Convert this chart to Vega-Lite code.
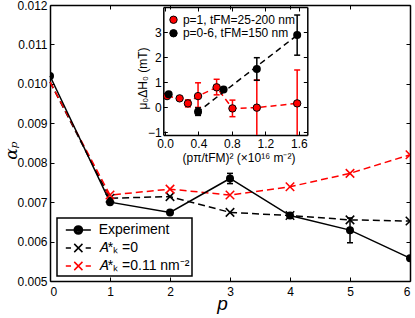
{
  "$schema": "https://vega.github.io/schema/vega-lite/v6.json",
  "width": 360,
  "height": 276,
  "autosize": {"type": "none"},
  "padding": {"left": 50, "top": 5, "right": 5, "bottom": 37},
  "background": "white",
  "config": {
    "font": "Liberation Sans",
    "view": {"stroke": null},
    "axis": {"grid": false, "domainColor": "black", "domainWidth": 1.5, "tickColor": "black", "tickWidth": 1, "tickSize": -4, "labelFont": "Liberation Sans", "labelFontSize": 12, "labelColor": "black", "titleColor": "black", "titleFontWeight": "normal", "titleFont": "Liberation Sans", "labelPadding": 7},
    "legend": {"strokeWidth": 1.5, "labelColor": "black", "labelFont": "Liberation Sans"}
  },
  "datasets": {
    "main": [
      {"s": "exp", "p": 0, "v": 0.0102},
      {"s": "exp", "p": 1, "v": 0.0070},
      {"s": "exp", "p": 2, "v": 0.00674},
      {"s": "exp", "p": 3, "v": 0.0076, "lo": 0.00747, "hi": 0.00773},
      {"s": "exp", "p": 4, "v": 0.00666},
      {"s": "exp", "p": 5, "v": 0.00629, "lo": 0.00597, "hi": 0.0066},
      {"s": "exp", "p": 6, "v": 0.00558},
      {"s": "a0", "p": 0, "v": 0.01005},
      {"s": "a0", "p": 1, "v": 0.0071},
      {"s": "a0", "p": 2, "v": 0.00714},
      {"s": "a0", "p": 3, "v": 0.00674},
      {"s": "a0", "p": 4, "v": 0.00666},
      {"s": "a0", "p": 5, "v": 0.00655},
      {"s": "a0", "p": 6, "v": 0.00652},
      {"s": "a11", "p": 0, "v": 0.01005},
      {"s": "a11", "p": 1, "v": 0.00718},
      {"s": "a11", "p": 2, "v": 0.00733},
      {"s": "a11", "p": 3, "v": 0.00718},
      {"s": "a11", "p": 4, "v": 0.00739},
      {"s": "a11", "p": 5, "v": 0.00773},
      {"s": "a11", "p": 6, "v": 0.0082}
    ],
    "inset": [
      {"g": "r", "x": 0.025, "y": 0.45},
      {"g": "r", "x": 0.175, "y": 0.36},
      {"g": "r", "x": 0.274, "y": 0.16, "lo": 0.02, "hi": 0.3},
      {"g": "r", "x": 0.395, "y": 0.45, "lo": 0.0, "hi": 0.98},
      {"g": "r", "x": 0.617, "y": 0.8, "lo": 0.5, "hi": 1.12},
      {"g": "r", "x": 0.806, "y": -0.04, "lo": -0.37, "hi": 0.29},
      {"g": "r", "x": 1.097, "y": -0.01, "lo": -1.1, "hi": 1.09},
      {"g": "r", "x": 1.579, "y": 0.16, "lo": -1.1, "hi": 1.49},
      {"g": "k", "x": 0.044, "y": 0.52},
      {"g": "k", "x": 0.395, "y": -0.17, "lo": -0.32, "hi": -0.02},
      {"g": "k", "x": 0.7, "y": 0.71},
      {"g": "k", "x": 1.097, "y": 1.53, "lo": 1.08, "hi": 1.98},
      {"g": "k", "x": 1.579, "y": 2.88, "lo": 2.08, "hi": 3.68},
      {"g": "fit", "x": 0.38, "y": -0.21},
      {"g": "fit", "x": 1.58, "y": 2.88}
    ]
  },
  "layer": [
    {
      "data": {"name": "main"},
      "encoding": {
        "x": {"field": "p", "type": "quantitative", "scale": {"domain": [0, 6], "nice": false, "zero": false},
          "axis": {"orient": "bottom", "values": [0, 1, 2, 3, 4, 5, 6], "labelPadding": 9, "title": "p", "titleFontStyle": "italic", "titleFontSize": 19, "titleBaseline": "alphabetic", "titleY": 28, "titleX": 172}},
        "y": {"field": "v", "type": "quantitative", "scale": {"domain": [0.005, 0.012], "nice": false, "zero": false},
          "axis": {"orient": "left", "values": [0.005, 0.006, 0.007, 0.008, 0.009, 0.01, 0.011, 0.012], "format": ".3f", "labelPadding": 7, "title": "αₚ", "titleFont": "DejaVu Serif", "titleFontStyle": "italic", "titleFontSize": 17, "titleX": -39, "titleY": 145, "titleBaseline": "middle"}}
      },
      "layer": [
        {"transform": [{"filter": "datum.s === 'a0'"}], "mark": {"type": "line", "color": "black", "strokeWidth": 1.5, "strokeDash": [7, 4]}},
        {"transform": [{"filter": "datum.s === 'a11'"}], "mark": {"type": "line", "color": "red", "strokeWidth": 1.5, "strokeDash": [7, 4]}},
        {"transform": [{"filter": "datum.s === 'exp'"}], "mark": {"type": "line", "color": "black", "strokeWidth": 1.5}},
        {"transform": [{"filter": "datum.s === 'exp' && isValid(datum.lo)"}], "mark": {"type": "rule", "color": "black", "strokeWidth": 1.5},
          "encoding": {"y": {"field": "lo", "type": "quantitative"}, "y2": {"field": "hi"}}},
        {"transform": [{"filter": "datum.s === 'exp' && isValid(datum.lo)"}], "mark": {"type": "tick", "orient": "horizontal", "color": "black", "thickness": 1.5, "size": 6, "opacity": 1},
          "encoding": {"y": {"field": "hi", "type": "quantitative"}}},
        {"transform": [{"filter": "datum.s === 'exp' && isValid(datum.lo)"}], "mark": {"type": "tick", "orient": "horizontal", "color": "black", "thickness": 1.5, "size": 6, "opacity": 1},
          "encoding": {"y": {"field": "lo", "type": "quantitative"}}},
        {"transform": [{"filter": "datum.s === 'exp'"}], "mark": {"type": "point", "filled": true, "color": "black", "size": 64, "opacity": 1, "clip": true}},
        {"transform": [{"filter": "datum.s === 'a0' && datum.p > 0"}], "mark": {"type": "point", "shape": "M-1,-1L1,1M-1,1L1,-1", "filled": false, "color": "black", "strokeWidth": 1.5, "size": 72, "opacity": 1, "clip": true}},
        {"transform": [{"filter": "datum.s === 'a11' && datum.p > 0"}], "mark": {"type": "point", "shape": "M-1,-1L1,1M-1,1L1,-1", "filled": false, "color": "red", "strokeWidth": 1.5, "size": 72, "opacity": 1, "clip": true}},
        {"transform": [{"filter": "false"}], "mark": {"type": "point", "filled": false, "strokeWidth": 1.5, "opacity": 1},
          "encoding": {
            "color": {"field": "s", "type": "nominal", "scale": {"domain": ["exp", "a0", "a11"], "range": ["black", "black", "red"]},
              "legend": {"title": null, "orient": "none", "legendX": 7, "legendY": 213, "padding": 2, "rowPadding": 0, "symbolSize": 335, "symbolOffset": 9.35, "labelOffset": 10.35, "labelFontSize": 14, "symbolStrokeWidth": 1.5, "strokeColor": "black", "fillColor": "white",
                "labelExpr": "datum.value === 'exp' ? 'Experiment' : datum.value === 'a0' ? '𝐴*ₖ =0' : '𝐴*ₖ =0.11 nm⁻²\u00a0\u00a0\u00a0\u00a0'",
                "encode": {"labels": {"update": {"font": {"signal": "datum.value === 'exp' ? 'Liberation Sans' : 'DejaVu Serif'"}}}}}},
            "shape": {"field": "s", "type": "nominal", "scale": {"domain": ["exp", "a0", "a11"], "range": ["M-1.37,0H1.37M0.45,0A0.45,0.45,0,1,1,-0.45,0A0.45,0.45,0,1,1,0.45,0M0.3,0A0.3,0.3,0,1,1,-0.3,0A0.3,0.3,0,1,1,0.3,0M0.15,0A0.15,0.15,0,1,1,-0.15,0A0.15,0.15,0,1,1,0.15,0M0.04,0A0.04,0.04,0,1,1,-0.04,0A0.04,0.04,0,1,1,0.04,0", "M-1.37,0H-0.8M0.8,0H1.37M-0.45,-0.45L0.45,0.45M-0.45,0.45L0.45,-0.45", "M-1.37,0H-0.8M0.8,0H1.37M-0.45,-0.45L0.45,0.45M-0.45,0.45L0.45,-0.45"]},
              "legend": {"title": null, "orient": "none", "legendX": 7, "legendY": 213, "padding": 2, "rowPadding": 0, "symbolSize": 335, "symbolOffset": 9.35, "labelOffset": 10.35, "labelFontSize": 14, "symbolStrokeWidth": 1.5, "strokeColor": "black", "fillColor": "white",
                "labelExpr": "datum.value === 'exp' ? 'Experiment' : datum.value === 'a0' ? '𝐴*ₖ =0' : '𝐴*ₖ =0.11 nm⁻²\u00a0\u00a0\u00a0\u00a0'",
                "encode": {"labels": {"update": {"font": {"signal": "datum.value === 'exp' ? 'Liberation Sans' : 'DejaVu Serif'"}}}}}}
          }}
      ]
    },
    {
      "data": {"name": "main"},
      "transform": [{"filter": "false"}],
      "mark": {"type": "point"},
      "encoding": {
        "x": {"field": "p", "type": "quantitative", "scale": {"domain": [0, 6], "nice": false, "zero": false}, "axis": {"orient": "top", "values": [0, 1, 2, 3, 4, 5, 6], "labels": false, "title": null}},
        "y": {"field": "v", "type": "quantitative", "scale": {"domain": [0.005, 0.012], "nice": false, "zero": false}, "axis": {"orient": "right", "values": [0.005, 0.006, 0.007, 0.008, 0.009, 0.01, 0.011, 0.012], "labels": false, "title": null}}
      }
    },
    {
      "data": {"name": "inset"},
      "encoding": {
        "x": {"field": "x", "type": "quantitative", "scale": {"domain": [-0.02, 1.7], "range": [113.3, 257.3], "nice": false, "zero": false},
          "axis": {"orient": "bottom", "offset": -146, "values": [0, 0.4, 0.8, 1.2, 1.6], "format": ".1f", "labelPadding": 7, "title": "(pπ/tFM)² (×10¹⁶ m⁻²)", "titleFontSize": 12, "titleX": 188.5, "titleY": 22, "titleBaseline": "middle"}},
        "y": {"field": "y", "type": "quantitative", "scale": {"domain": [-1.1, 4], "range": [130, 2], "nice": false, "zero": false},
          "axis": {"orient": "left", "offset": -113.3, "values": [-1, 0, 1, 2, 3], "labelPadding": 6, "title": "μ₀ΔH₀ (mT)", "titleFontSize": 12, "titleX": -21, "titleY": 73, "titleBaseline": "middle"}}
      },
      "layer": [
        {"transform": [{"filter": "datum.g === 'r' && isValid(datum.lo)"}], "mark": {"type": "rule", "color": "red", "strokeWidth": 1.5},
          "encoding": {"y": {"field": "lo", "type": "quantitative"}, "y2": {"field": "hi"}}},
        {"transform": [{"filter": "datum.g === 'r' && isValid(datum.lo)"}], "mark": {"type": "tick", "orient": "horizontal", "color": "red", "thickness": 1.5, "size": 6, "opacity": 1},
          "encoding": {"y": {"field": "hi", "type": "quantitative"}}},
        {"transform": [{"filter": "datum.g === 'r' && isValid(datum.lo) && datum.lo > -1.05"}], "mark": {"type": "tick", "orient": "horizontal", "color": "red", "thickness": 1.5, "size": 6, "opacity": 1},
          "encoding": {"y": {"field": "lo", "type": "quantitative"}}},
        {"transform": [{"filter": "datum.g === 'r'"}], "mark": {"type": "line", "color": "red", "strokeWidth": 1.5, "strokeDash": [6, 4]}},
        {"transform": [{"filter": "datum.g === 'r'"}], "mark": {"type": "point", "filled": true, "fill": "red", "stroke": "black", "strokeWidth": 1, "size": 55, "opacity": 1}},
        {"transform": [{"filter": "datum.g === 'fit'"}], "mark": {"type": "line", "color": "black", "strokeWidth": 1.5, "strokeDash": [6, 4]}},
        {"transform": [{"filter": "datum.g === 'k' && isValid(datum.lo)"}], "mark": {"type": "rule", "color": "black", "strokeWidth": 1.5},
          "encoding": {"y": {"field": "lo", "type": "quantitative"}, "y2": {"field": "hi"}}},
        {"transform": [{"filter": "datum.g === 'k' && isValid(datum.lo)"}], "mark": {"type": "tick", "orient": "horizontal", "color": "black", "thickness": 1.5, "size": 6, "opacity": 1},
          "encoding": {"y": {"field": "hi", "type": "quantitative"}}},
        {"transform": [{"filter": "datum.g === 'k' && isValid(datum.lo)"}], "mark": {"type": "tick", "orient": "horizontal", "color": "black", "thickness": 1.5, "size": 6, "opacity": 1},
          "encoding": {"y": {"field": "lo", "type": "quantitative"}}},
        {"transform": [{"filter": "datum.g === 'k'"}], "mark": {"type": "point", "filled": true, "color": "black", "size": 64, "opacity": 1}},
        {"transform": [{"filter": "false"}], "mark": {"type": "point", "filled": true, "opacity": 1},
          "encoding": {
            "fill": {"field": "g", "type": "nominal", "scale": {"domain": ["r", "k"], "range": ["red", "black"]},
              "legend": {"title": null, "orient": "none", "legendX": 117.5, "legendY": 8.75, "padding": 0, "rowPadding": 1.5, "symbolSize": 55, "symbolType": "circle", "symbolStrokeColor": "black", "symbolStrokeWidth": 1, "labelOffset": 3.4, "labelFontSize": 12,
                "labelExpr": "datum.value === 'r' ? 'p=1, tFM=25-200 nm' : 'p=0-6, tFM=150 nm'",
                "encode": {"symbols": {"update": {"stroke": {"value": "black"}, "strokeWidth": {"value": 1}}}}}}
          }}
      ]
    },
    {
      "data": {"name": "inset"},
      "transform": [{"filter": "false"}],
      "mark": {"type": "point"},
      "encoding": {
        "x": {"field": "x", "type": "quantitative", "scale": {"domain": [-0.02, 1.7], "range": [113.3, 257.3], "nice": false, "zero": false}, "axis": {"orient": "top", "offset": -2, "values": [0, 0.4, 0.8, 1.2, 1.6], "labels": false, "title": null}},
        "y": {"field": "y", "type": "quantitative", "scale": {"domain": [-1.1, 4], "range": [130, 2], "nice": false, "zero": false}, "axis": {"orient": "right", "offset": -102.7, "values": [-1, 0, 1, 2, 3], "labels": false, "title": null}}
      }
    }
  ],
  "resolve": {"scale": {"x": "independent", "y": "independent"}, "axis": {"x": "independent", "y": "independent"}}
}
